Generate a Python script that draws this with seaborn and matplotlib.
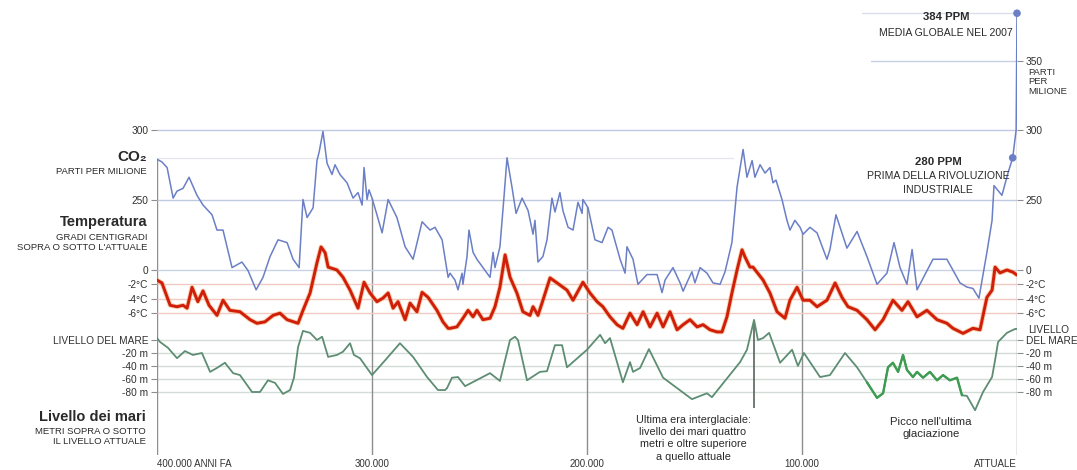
import numpy as np
import matplotlib
matplotlib.use("Agg")
import matplotlib.pyplot as plt
import matplotlib.patheffects as pe
from matplotlib.transforms import blended_transform_factory
import seaborn as sns

# ---------------------------------------------------------------- data
# Carbon dioxide (ppm) against thousands of years before present
co2_kyr = [400, 397.7, 395.3, 392.5, 390.7, 387.9, 385.1, 381.4, 378.6, 374.4,
           372.1, 369.3, 365.1, 360.5, 357.7, 353.9, 350.7, 347.4, 343.7, 339.5,
           336.7, 333.9, 332.1, 330.2, 327.4, 325.6, 324.6, 322.8, 320.9, 318.6,
           317.2, 314.9, 311.6, 308.8, 306.5, 304.6, 303.7, 302.3, 301.4, 300.0,
           297.7, 295.3, 292.5, 288.4, 284.6, 280.9, 276.7, 273.0, 270.7, 267.4,
           264.6, 263.7, 261.4, 260.0, 258.1, 257.7, 255.8, 254.9, 253.0, 251.2,
           248.4, 245.1, 243.7, 242.8, 240.5, 238.6, 237.2, 234.9, 233.0, 230.2,
           227.4, 225.1, 224.2, 222.8, 220.5, 218.6, 216.3, 214.9, 212.6, 211.2,
           208.8, 206.5, 204.2, 202.3, 201.9, 199.5, 196.3, 193.0, 190.2, 188.4,
           184.6, 182.3, 181.4, 178.6, 176.3, 172.1, 167.4, 165.1, 163.7, 160.0,
           156.7, 155.3, 153.0, 151.2, 149.8, 147.4, 144.2, 141.4, 138.1, 135.8,
           132.6, 130.2, 127.4, 125.6, 123.2, 121.9, 119.5, 117.2, 114.9, 113.5,
           112.1, 109.3, 107.0, 105.6, 103.3, 100.9, 99.5, 96.3, 93.0, 88.4,
           87.0, 84.2, 79.1, 74.4, 69.8, 65.1, 60.5, 57.2, 54.4, 51.2,
           48.8, 46.5, 39.1, 32.6, 26.5, 23.3, 20.5, 17.7, 14.0, 11.6,
           10.7, 7.0, 4.2, 2.0, 0.4, 0.0]
co2_ppm = [279, 277, 273, 251, 256, 258, 266, 253, 246, 239,
           228, 228, 201, 205, 199, 185, 194, 209, 221, 219,
           207, 201, 250, 237, 244, 278, 284, 299, 276, 268,
           275, 268, 262, 251, 255, 246, 273, 250, 257, 251,
           239, 226, 250, 237, 216, 207, 234, 228, 230, 221,
           194, 197, 192, 185, 197, 189, 209, 228, 212, 207,
           201, 194, 212, 201, 216, 252, 280, 259, 240, 251,
           242, 225, 235, 205, 209, 221, 251, 241, 255, 242,
           230, 228, 248, 240, 250, 244, 221, 219, 230, 228,
           207, 197, 216, 207, 189, 196, 196, 183, 192, 201,
           190, 184, 192, 198, 190, 201, 197, 190, 189, 198,
           219, 259, 286, 266, 278, 266, 275, 269, 273, 262,
           264, 250, 235, 228, 235, 230, 225, 230, 226, 207,
           214, 239, 215, 227, 209, 189, 197, 219, 201, 189,
           214, 185, 207, 207, 190, 187, 186, 179, 212, 235,
           260, 253, 269, 280, 300, 384]

# Highlighted CO2 readings: pre-industrial level and 2007 global mean
co2_marks_kyr = [2.0, 0.0]
co2_marks_ppm = [280, 384]

# Temperature anomaly (degrees C relative to today)
temp_kyr = [400.0, 397.7, 393.9, 390.7, 387.9, 386.0, 383.7, 381.0, 378.6, 375.8,
            372.1, 369.3, 366.1, 361.4, 356.7, 353.5, 349.8, 346.0, 342.8, 339.5,
            334.4, 332.1, 328.8, 325.6, 323.7, 321.8, 320.4, 316.3, 313.5, 310.2,
            306.5, 303.7, 300.9, 297.7, 294.9, 292.5, 290.2, 287.9, 284.6, 282.3,
            279.1, 276.7, 273.9, 269.8, 267.0, 264.6, 263.7, 260.5, 257.7, 255.3,
            253.0, 251.2, 248.4, 245.1, 242.8, 240.5, 238.1, 235.8, 232.6, 229.8,
            226.5, 225.1, 222.8, 220.5, 217.2, 213.9, 209.3, 206.5, 201.9, 198.6,
            195.3, 192.6, 189.3, 186.0, 183.3, 180.0, 176.7, 173.9, 170.7, 167.4,
            164.6, 161.4, 158.1, 155.3, 152.1, 148.8, 146.0, 142.8, 139.5, 137.2,
            134.9, 132.6, 130.2, 127.9, 126.5, 124.2, 122.8, 118.1, 114.9, 111.6,
            107.9, 105.6, 102.3, 99.5, 96.3, 93.0, 88.4, 84.6, 81.4, 78.6,
            74.4, 69.8, 66.0, 62.3, 57.7, 53.5, 50.7, 46.5, 41.9, 37.2,
            32.6, 29.8, 25.1, 20.5, 17.2, 14.0, 11.6, 10.2, 7.9, 4.7,
            1.9, 0.0]
temp_c = [-1.4, -1.8, -4.9, -5.1, -4.9, -5.3, -2.4, -4.4, -2.9, -4.9,
          -6.3, -4.2, -5.6, -5.8, -6.9, -7.4, -7.2, -6.3, -6.0, -6.9,
          -7.4, -5.6, -3.2, 1.0, 3.2, 2.4, 0.4, 0.0, -1.0, -2.8,
          -5.3, -1.7, -3.2, -4.4, -3.9, -3.2, -5.3, -4.4, -6.9, -4.6,
          -5.8, -3.1, -3.8, -5.6, -7.2, -8.1, -8.1, -7.9, -6.7, -5.6,
          -6.5, -5.6, -6.9, -6.7, -5.1, -2.4, 2.1, -1.0, -3.2, -5.8,
          -6.3, -5.1, -6.3, -4.2, -1.1, -1.8, -2.8, -4.2, -1.7, -3.2,
          -4.4, -5.1, -6.5, -7.6, -8.1, -6.0, -7.6, -5.8, -7.9, -6.0,
          -7.9, -5.8, -8.3, -7.6, -6.9, -7.9, -7.6, -8.3, -8.6, -8.6,
          -6.5, -3.2, 0.0, 2.8, 1.8, 0.4, 0.4, -1.4, -3.2, -5.8,
          -6.7, -4.2, -2.4, -4.2, -4.2, -5.1, -4.2, -1.8, -3.8, -5.1,
          -5.6, -6.9, -8.3, -6.9, -4.2, -5.6, -4.4, -6.5, -5.6, -6.9,
          -7.4, -8.1, -8.8, -8.1, -8.3, -3.8, -2.8, 0.4, -0.4, 0.0,
          -0.3, -0.7]

# Sea level (metres relative to today)
sea_kyr = [400.0, 398.6, 394.9, 390.7, 387.0, 383.3, 379.1, 375.3, 372.1, 368.4,
           364.6, 361.4, 355.8, 352.1, 348.4, 345.1, 341.4, 338.1, 336.3, 334.4,
           332.1, 328.8, 325.6, 323.2, 320.4, 316.3, 313.5, 310.2, 308.4, 305.6,
           300.0, 294.9, 287.0, 280.9, 274.4, 269.3, 266.0, 265.1, 262.8, 260.0,
           256.7, 245.1, 240.5, 235.8, 233.5, 232.1, 227.9, 221.9, 218.6, 214.9,
           211.6, 209.3, 200.0, 193.9, 191.6, 189.3, 183.3, 180.0, 178.6, 175.3,
           171.2, 164.6, 151.2, 144.2, 141.9, 128.8, 125.6, 122.3, 120.5, 118.1,
           115.3, 110.2, 104.6, 101.9, 99.1, 91.6, 87.0, 80.0, 74.4, 69.8,
           65.1, 62.3, 60.0, 57.7, 55.3, 53.0, 51.2, 48.4, 46.5, 43.7,
           40.5, 37.2, 34.4, 31.2, 27.9, 25.6, 23.3, 19.5, 15.8, 11.6,
           10.2, 8.8, 4.7, 0.9, 0.0]
sea_m = [3, -3, -12, -28, -17, -23, -20, -49, -43, -35,
         -51, -54, -80, -80, -62, -66, -83, -77, -58, -11,
         14, 11, 0, 5, -26, -23, -18, -5, -23, -28,
         -54, -35, -5, -26, -57, -77, -77, -74, -58, -57,
         -71, -51, -63, 0, 5, 0, -62, -49, -48, -8,
         -8, -42, -15, 8, -5, 3, -65, -34, -49, -43,
         -14, -58, -91, -82, -88, -34, -15, 31, 0, 3,
         11, -35, -15, -40, -20, -57, -54, -20, -42, -65,
         -89, -82, -42, -35, -49, -23, -46, -57, -49, -58,
         -49, -62, -54, -62, -58, -85, -86, -108, -80, -57,
         -31, -3, 11, 17, 17]

last_glaciation_kyr = (72, 25)   # window drawn in the brighter green
interglacial_kyr = 122.3         # last interglacial sea-level high stand

year_ticks = [400, 300, 200, 100, 0]
year_labels = ["400.000 ANNI FA", "300.000", "200.000", "100.000", "ATTUALE"]

co2_ticks_left = [300, 250]
co2_ticks_right = [350, 300, 250]
temp_ticks = [0, -2, -4, -6]
temp_labels = ["0", "-2°C", "-4°C", "-6°C"]
sea_ticks = [0, -20, -40, -60, -80]
sea_labels_left = ["LIVELLO DEL MARE", "-20 m", "-40 m", "-60 m", "-80 m"]
sea_labels_right = ["DEL MARE", "-20 m", "-40 m", "-60 m", "-80 m"]

# ---------------------------------------------------------------- style
sns.set_theme(style="white")
plt.rcParams["font.family"] = ["Liberation Sans", "DejaVu Sans"]

C_CO2 = "#6b7fc6"
C_TEMP = "#d01e0a"
C_SEA = "#5e8d74"
C_SEA_GLACIAL = "#3d9c52"
C_FRAME = "#8e8e8e"
C_TEXT = "#2a2a2a"

W, H = 1077, 470
L, R, T, B = 157, 1017, 0, 455   # plotting band in pixels


def limits(ref_val, ref_px, px_per_unit):
    """y-limits so that ref_val sits at pixel row ref_px."""
    return (ref_val - (B - ref_px) / px_per_unit,
            ref_val + (ref_px - T) / px_per_unit)


def ftext(px, py, s, **kw):
    kw.setdefault("color", C_TEXT)
    fig.text(px / W, 1 - py / H, s, **kw)


fig = plt.figure(figsize=(W / 100, H / 100), dpi=100)
fig.patch.set_facecolor("white")
rect = [L / W, 1 - B / H, (R - L) / W, (B - T) / H]
ax_sea = fig.add_axes(rect)
ax_tmp = fig.add_axes(rect, sharex=ax_sea)
ax_co2 = fig.add_axes(rect, sharex=ax_sea)

for a in (ax_sea, ax_tmp, ax_co2):
    a.set_facecolor("none")
    for s in a.spines.values():
        s.set_visible(False)

ax_sea.set_xlim(400, 0)
ax_sea.set_ylim(*limits(0, 340, 0.65))
ax_tmp.set_ylim(*limits(0, 270, 7.2))
ax_co2.set_ylim(*limits(300, 130, 1.39))

# ---------------------------------------------------------------- grid
for v in sea_ticks:
    ax_sea.axhline(v, color="#d4dcd7", lw=1.0, zorder=0)
ax_tmp.axhline(0, color="#c9d2e8", lw=1.0, zorder=0)
for v in temp_ticks[1:]:
    ax_tmp.axhline(v, color="#f1cbc2", lw=1.0, zorder=0)
for v in (300, 250):
    ax_co2.axhline(v, color="#bfcae2", lw=1.0, zorder=0)
ax_co2.axhline(280, xmin=0, xmax=0.67, color="#e3e6ec", lw=0.9, zorder=0)
ax_co2.axhline(350, xmin=0.83, xmax=1, color="#c6cfe4", lw=1.0, zorder=0)
ax_co2.axhline(384, xmin=0.82, xmax=1, color="#d9deea", lw=1.0, zorder=0)

# vertical time markers run from the CO2 curve down to the baseline
k_co2 = np.asarray(co2_kyr)[::-1]
p_co2 = np.asarray(co2_ppm)[::-1]
co2_at_ticks = np.interp(year_ticks, k_co2, p_co2)


def co2_to_sea(val):
    disp = ax_co2.transData.transform((0, val))
    return ax_sea.transData.inverted().transform(disp)[1]


ax_sea.vlines(year_ticks, ymin=ax_sea.get_ylim()[0],
              ymax=[co2_to_sea(v) for v in co2_at_ticks],
              color=C_FRAME, lw=1.0, zorder=1)

# marker line for the last interglacial high stand
sea_peak = np.interp(interglacial_kyr, np.asarray(sea_kyr)[::-1], np.asarray(sea_m)[::-1])
ax_sea.vlines(interglacial_kyr, ymin=(340 - 408) / 0.65, ymax=sea_peak,
              color="#56665c", lw=1.2, zorder=2)

# ---------------------------------------------------------------- curves
sns.lineplot(x=sea_kyr, y=sea_m, ax=ax_sea, color=C_SEA, lw=1.3,
             estimator=None, sort=False, zorder=3)
sk = np.asarray(sea_kyr)
sm = np.asarray(sea_m)
mask = (sk <= last_glaciation_kyr[0]) & (sk >= last_glaciation_kyr[1])
sns.lineplot(x=sk[mask], y=sm[mask], ax=ax_sea, color=C_SEA_GLACIAL, lw=1.7,
             estimator=None, sort=False, zorder=4)

sns.lineplot(x=temp_kyr, y=temp_c, ax=ax_tmp, color=C_TEMP, lw=2.1,
             estimator=None, sort=False, zorder=3)
ax_tmp.lines[-1].set_path_effects([
    pe.Stroke(linewidth=3.4, foreground="#f0a060", alpha=0.55), pe.Normal()])

sns.lineplot(x=co2_kyr, y=co2_ppm, ax=ax_co2, color=C_CO2, lw=1.1,
             estimator=None, sort=False, zorder=3)
sns.scatterplot(x=co2_marks_kyr, y=co2_marks_ppm, ax=ax_co2, color=C_CO2,
                s=30, edgecolor="none", zorder=5, clip_on=False)

for a in (ax_sea, ax_tmp, ax_co2):
    a.set_xlabel("")
    a.set_ylabel("")

# ---------------------------------------------------------------- axes ticks
ax_sea.set_xticks(year_ticks, year_labels)
ax_sea.tick_params(axis="x", bottom=False, length=0, pad=2.8,
                   labelsize=7, labelcolor="#333333")
for lbl, ha in zip(ax_sea.get_xticklabels(),
                   ["left", "center", "center", "center", "right"]):
    lbl.set_ha(ha)
for a in (ax_tmp, ax_co2):
    a.tick_params(axis="x", bottom=False, labelbottom=False)

tick_kw = dict(length=4.5, width=0.8, color=C_FRAME, labelsize=7.3,
               labelcolor="#303030", pad=1.8, direction="out")

ax_co2.set_yticks(co2_ticks_left, [str(v) for v in co2_ticks_left])
ax_tmp.set_yticks(temp_ticks, temp_labels)
ax_sea.set_yticks(sea_ticks, sea_labels_left)
for a in (ax_sea, ax_tmp, ax_co2):
    a.tick_params(axis="y", left=True, right=False, labelleft=True,
                  labelright=False, **tick_kw)

right_sets = [(ax_co2, co2_ticks_right, [str(v) for v in co2_ticks_right]),
              (ax_tmp, temp_ticks, temp_labels),
              (ax_sea, sea_ticks, sea_labels_right)]
for a, ticks, labels in right_sets:
    sec = a.secondary_yaxis("right")
    sec.set_yticks(ticks, labels)
    sec.tick_params(axis="y", right=True, labelright=True, **tick_kw)
    for s in sec.spines.values():
        s.set_visible(False)

# extra words under / above some right-hand tick labels
xr = 1 + 11 / (R - L)
tr_co2 = blended_transform_factory(ax_co2.transAxes, ax_co2.transData)
ax_co2.text(xr, 350 - 5.5, "PARTI\nPER\nMILIONE", transform=tr_co2,
            ha="left", va="top", fontsize=6.8, color="#303030",
            linespacing=1.05)
tr_sea = blended_transform_factory(ax_sea.transAxes, ax_sea.transData)
ax_sea.text(xr, 16, "LIVELLO", transform=tr_sea, ha="left", va="center",
            fontsize=7.3, color="#303030")

# ---------------------------------------------------------------- titles
ftext(147, 157, "CO₂", ha="right", va="center", fontsize=11, fontweight="bold")
ftext(147, 172, "PARTI PER MILIONE", ha="right", va="center", fontsize=6.8)
ftext(147, 222, "Temperatura", ha="right", va="center", fontsize=10.5,
      fontweight="bold")
ftext(147, 237, "GRADI CENTIGRADI", ha="right", va="center", fontsize=6.8)
ftext(147, 248, "SOPRA O SOTTO L'ATTUALE", ha="right", va="center", fontsize=6.8)
ftext(146, 417, "Livello dei mari", ha="right", va="center", fontsize=10.5,
      fontweight="bold")
ftext(146, 431, "METRI SOPRA O SOTTO", ha="right", va="center", fontsize=6.8)
ftext(146, 442, "IL LIVELLO ATTUALE", ha="right", va="center", fontsize=6.8)

ftext(946, 17, "384 PPM", ha="center", va="center", fontsize=8.2,
      fontweight="bold")
ftext(946, 33, "MEDIA GLOBALE NEL 2007", ha="center", va="center", fontsize=7.6)
ftext(938, 162, "280 PPM", ha="center", va="center", fontsize=8.2,
      fontweight="bold")
ftext(938, 176, "PRIMA DELLA RIVOLUZIONE", ha="center", va="center",
      fontsize=7.6)
ftext(938, 190, "INDUSTRIALE", ha="center", va="center", fontsize=7.6)

ftext(693, 415, "Ultima era interglaciale:\nlivello dei mari quattro\n"
      "metri e oltre superiore\na quello attuale",
      ha="center", va="top", fontsize=7.8, linespacing=1.28)
ftext(931, 417, "Picco nell'ultima\nglaciazione", ha="center", va="top",
      fontsize=8.2, linespacing=1.2)

fig.savefig("out.png", dpi=100, facecolor="white")
